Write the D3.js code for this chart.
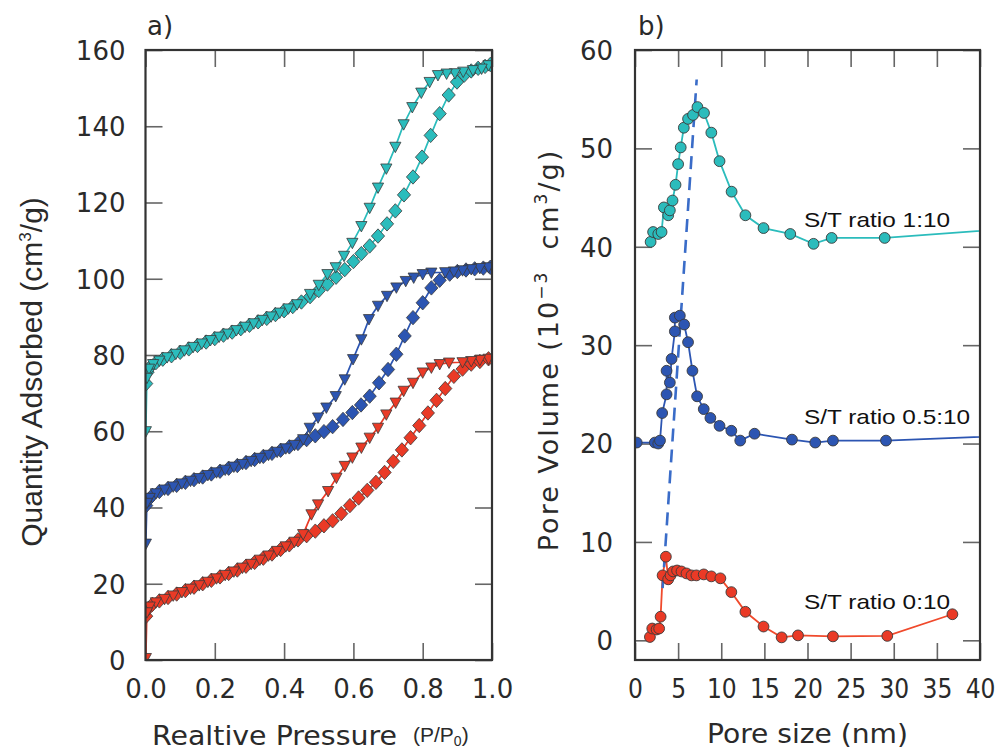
<!DOCTYPE html>
<html>
<head>
<meta charset="utf-8">
<script src="https://cdn.jsdelivr.net/npm/d3@7"></script>
<style>
  body { margin: 0; background: #fff; }
  svg { display: block; }
</style>
</head>
<body>
<svg id="chart"></svg>
<script>
// ---- panel a) N2 isotherms: [P/P0, quantity adsorbed] ----
const ads_c = [[0.002,72.5],[0.006,75.5],[0.015,77.0],[0.03,78.0],[0.05,78.9],[0.075,79.8],[0.1,80.7],[0.125,81.6],[0.15,82.5],[0.175,83.4],[0.2,84.3],[0.225,85.2],[0.25,86.0],[0.275,86.9],[0.3,87.8],[0.325,88.7],[0.35,89.6],[0.375,90.6],[0.4,91.6],[0.425,92.7],[0.45,93.9],[0.475,95.3],[0.5,96.9],[0.525,98.6],[0.55,100.4],[0.575,102.4],[0.6,104.5],[0.623,106.6],[0.647,108.6],[0.671,111.2],[0.697,114.4],[0.721,117.8],[0.746,122.0],[0.772,126.7],[0.798,131.9],[0.823,137.6],[0.849,143.3],[0.875,148.2],[0.899,151.6],[0.92,153.4],[0.94,154.5],[0.96,155.2],[0.98,155.7],[0.995,156.2]];
const des_c = [[0.99,156.0],[0.97,155.1],[0.945,154.7],[0.917,154.3],[0.893,153.9],[0.869,153.8],[0.844,153.4],[0.82,151.6],[0.796,148.8],[0.77,145.0],[0.745,140.5],[0.721,134.6],[0.695,128.9],[0.671,123.9],[0.647,118.6],[0.623,113.8],[0.597,109.4],[0.573,106.0],[0.549,103.0],[0.525,101.2],[0.5,98.4],[0.475,96.0],[0.4375,93.3],[0.4125,92.2],[0.3875,91.1],[0.3625,90.1],[0.3375,89.2],[0.3125,88.3],[0.2875,87.4],[0.2625,86.5],[0.2375,85.6],[0.2125,84.8],[0.1875,83.9],[0.1625,83.0],[0.1375,82.1],[0.1125,81.2],[0.0875,80.3],[0.0625,79.4],[0.04,78.5],[0.022,77.6],[0.01,76.4],[0.004,74.0],[0.001,60.0]];

const ads_b = [[0.002,40.5],[0.008,42.0],[0.02,43.2],[0.04,44.2],[0.065,45.0],[0.09,45.8],[0.115,46.6],[0.14,47.3],[0.165,48.0],[0.19,48.8],[0.215,49.5],[0.24,50.3],[0.265,51.0],[0.29,51.8],[0.315,52.6],[0.34,53.4],[0.365,54.2],[0.39,55.0],[0.415,55.9],[0.44,56.8],[0.465,57.8],[0.49,58.8],[0.515,59.9],[0.54,61.2],[0.57,63.1],[0.597,64.9],[0.622,66.9],[0.647,69.2],[0.674,72.7],[0.7,76.2],[0.724,80.2],[0.748,85.0],[0.772,89.8],[0.8,93.7],[0.825,97.6],[0.849,99.6],[0.878,101.2],[0.9,101.9],[0.925,102.3],[0.95,102.6],[0.975,102.8],[0.995,103.0]];
const des_b = [[0.99,103.0],[0.965,102.8],[0.94,102.5],[0.915,102.2],[0.89,101.9],[0.865,101.7],[0.825,101.6],[0.8,101.2],[0.774,100.3],[0.751,99.4],[0.724,97.7],[0.697,95.5],[0.671,92.9],[0.645,89.4],[0.623,84.1],[0.599,78.9],[0.575,73.6],[0.549,69.2],[0.522,66.2],[0.498,63.6],[0.474,60.9],[0.455,57.9],[0.43,56.4],[0.405,55.5],[0.38,54.6],[0.355,53.8],[0.33,53.0],[0.305,52.2],[0.28,51.4],[0.255,50.7],[0.23,49.9],[0.205,49.2],[0.18,48.5],[0.155,47.7],[0.13,47.0],[0.105,46.3],[0.08,45.5],[0.055,44.7],[0.03,43.7],[0.012,42.5],[0.004,41.2],[0.001,30.5]];

const ads_r = [[0.002,11.5],[0.008,13.5],[0.02,14.6],[0.04,15.5],[0.065,16.4],[0.09,17.3],[0.115,18.2],[0.14,19.1],[0.165,20.0],[0.19,20.9],[0.215,21.8],[0.24,22.7],[0.265,23.6],[0.29,24.6],[0.315,25.6],[0.34,26.7],[0.365,27.8],[0.39,29.0],[0.415,30.2],[0.44,31.5],[0.465,32.6],[0.49,33.8],[0.515,35.2],[0.54,36.5],[0.565,38.4],[0.59,40.5],[0.615,42.5],[0.64,44.5],[0.665,46.6],[0.69,49.2],[0.715,52.1],[0.74,55.1],[0.765,58.3],[0.79,61.5],[0.815,64.8],[0.84,68.1],[0.865,71.2],[0.89,74.4],[0.915,76.3],[0.94,77.6],[0.965,78.3],[0.99,79.0]];
const des_r = [[0.99,79.0],[0.965,78.7],[0.94,78.4],[0.915,78.1],[0.876,78.0],[0.849,77.6],[0.825,76.7],[0.8,75.4],[0.772,72.7],[0.745,70.6],[0.722,67.5],[0.695,64.4],[0.671,60.9],[0.647,58.3],[0.623,55.7],[0.597,53.1],[0.575,50.9],[0.551,47.8],[0.527,44.3],[0.498,40.8],[0.479,38.2],[0.455,33.0],[0.43,31.0],[0.405,29.8],[0.38,28.6],[0.355,27.4],[0.33,26.3],[0.305,25.2],[0.28,24.2],[0.255,23.2],[0.23,22.3],[0.205,21.4],[0.18,20.5],[0.155,19.6],[0.13,18.7],[0.105,17.8],[0.08,16.9],[0.055,16.0],[0.03,15.1],[0.012,14.0],[0.004,12.5],[0.001,0.5]];

// ---- panel b) pore size distributions: [pore size nm, pore volume 1e-3 cm3/g] ----
const psd_1_10 = [[1.81,40.5],[2.1,41.5],[2.7,41.3],[3.08,41.5],[3.35,44.0],[3.85,43.2],[4.04,43.7],[4.35,44.7],[4.7,46.3],[5.0,48.4],[5.3,50.1],[5.66,52.1],[6.15,53.0],[6.73,53.4],[7.24,54.2],[8.0,53.6],[8.85,51.6],[9.8,48.7],[11.2,45.6],[12.8,43.2],[14.9,41.9],[18.0,41.3],[20.7,40.3],[22.8,40.9],[28.95,40.9],[46,42.0]];
const psd_05_10 = [[0.2,20.1],[2.3,20.1],[2.7,20.0],[2.9,20.3],[3.15,23.1],[3.66,25.0],[3.66,27.4],[4.04,26.2],[4.24,28.6],[4.62,31.4],[4.62,32.8],[5.2,33.0],[5.7,32.1],[6.15,30.3],[6.66,27.4],[7.2,24.8],[7.97,23.5],[8.74,22.6],[9.8,21.8],[11.17,21.3],[12.2,20.3],[13.86,21.0],[18.2,20.4],[20.9,20.1],[22.95,20.3],[29.1,20.3],[46,20.9]];
const psd_0_10 = [[1.73,0.34],[2.0,1.2],[2.5,1.1],[2.8,1.2],[2.97,2.4],[3.2,6.6],[3.58,8.5],[3.85,6.2],[4.12,6.6],[4.42,7.0],[4.88,7.1],[5.39,7.0],[5.97,6.8],[6.55,6.6],[7.12,6.6],[7.97,6.7],[8.85,6.5],[9.9,6.3],[11.17,4.9],[12.8,2.9],[14.9,1.4],[17.0,0.3],[18.9,0.5],[22.95,0.4],[29.25,0.45],[36.8,2.65]];
const peakShift = [[3.2,5.3],[7.15,57.0]];

const psdLabels = ["S/T ratio 1:10", "S/T ratio 0.5:10", "S/T ratio 0:10"];
const psdLabelAt = [[19.6,42.0],[19.6,22.0],[19.6,3.2]];

const xTicksA = [0, 0.2, 0.4, 0.6, 0.8, 1.0];
const yTicksA = [0, 20, 40, 60, 80, 100, 120, 140, 160];
const xTicksB = [0, 5, 10, 15, 20, 25, 30, 35, 40];
const yTicksB = [0, 10, 20, 30, 40, 50, 60];

const CYAN = '#2bbcbc', BLUE = '#2c55b2', RED = '#ea3a26';

const width = 1002, height = 751;
const svg = d3.select('#chart').attr('width', width).attr('height', height);

const tickFont = 'DejaVu Sans, sans-serif';
const textCol = '#2a2a2a';
const plotTop = 50, plotBottom = 660, tickLen = 17;

// Panel geometry
const xA = d3.scaleLinear().domain([0, 1]).range([145.5, 492]);
const yA = d3.scaleLinear().domain([0, 160]).range([plotBottom, plotTop]);
const xB = d3.scaleLinear().domain([0, 40]).range([635, 980]);
const yB = d3.scaleLinear().domain([-2, 60]).range([plotBottom, plotTop]);

function frameAndAxes(x, y, xTicks, yTicks, xFmt, opts) {
  const g = svg.append('g');
  const [x0, x1] = x.range();
  const [y0, y1] = y.range();

  const bot = g.append('g').attr('transform', `translate(0,${y0})`)
    .call(d3.axisBottom(x).tickValues(xTicks).tickFormat(xFmt).tickSizeInner(-tickLen).tickSizeOuter(0));
  bot.selectAll('text').attr('y', 38).attr('dy', 0)
    .style('font-family', opts.xFont).style('font-size', '26px').attr('fill', textCol);

  const lft = g.append('g').attr('transform', `translate(${x0},0)`)
    .call(d3.axisLeft(y).tickValues(yTicks).tickSizeInner(-tickLen).tickSizeOuter(0));
  lft.selectAll('text').attr('x', -opts.yPad).attr('dy', '0.36em')
    .style('font-family', tickFont).style('font-size', '26px').attr('fill', textCol);

  // mirrored ticks on top and right, no labels
  g.append('g').attr('transform', `translate(0,${y1})`)
    .call(d3.axisTop(x).tickValues(xTicks).tickFormat('').tickSizeInner(-tickLen).tickSizeOuter(0));
  g.append('g').attr('transform', `translate(${x1},0)`)
    .call(d3.axisRight(y).tickValues(yTicks).tickFormat('').tickSizeInner(-tickLen).tickSizeOuter(0));

  g.selectAll('.domain').remove();
  g.selectAll('.tick line').attr('stroke', '#666').attr('stroke-width', 1.6);
  return g;
}

function clipFor(id, x, y) {
  svg.append('clipPath').attr('id', id).append('rect')
    .attr('x', x.range()[0]).attr('y', y.range()[1])
    .attr('width', x.range()[1] - x.range()[0])
    .attr('height', y.range()[0] - y.range()[1]);
}

function frame(x, y) {
  svg.append('rect')
    .attr('x', x.range()[0]).attr('y', y.range()[1])
    .attr('width', x.range()[1] - x.range()[0])
    .attr('height', y.range()[0] - y.range()[1])
    .attr('fill', 'none').attr('stroke', '#333').attr('stroke-width', 2.2);
}

// ---------- panel a ----------
frameAndAxes(xA, yA, xTicksA, yTicksA, d3.format('.1f'), { xFont: tickFont, yPad: 20 });
clipFor('clipA', xA, yA);

const diamond = 'M0,-7.2L6.6,0L0,7.2L-6.6,0Z';
const triDown = 'M-5.6,-4.6L5.6,-4.6L0,5.8Z';

const lineA = d3.line().x(d => xA(d[0])).y(d => yA(d[1]));
const plotA = svg.append('g').attr('clip-path', 'url(#clipA)');

const isotherms = [
  { ads: ads_r, des: des_r, color: RED },
  { ads: ads_b, des: des_b, color: BLUE },
  { ads: ads_c, des: des_c, color: CYAN }
];

isotherms.forEach(s => {
  plotA.append('path').datum(s.ads).attr('d', lineA)
    .attr('fill', 'none').attr('stroke', s.color).attr('stroke-width', 1.7);
  plotA.append('path').datum(s.des).attr('d', lineA)
    .attr('fill', 'none').attr('stroke', s.color).attr('stroke-width', 1.7);
});

isotherms.forEach(s => {
  plotA.append('g').selectAll('path').data(s.ads).join('path')
    .attr('d', diamond)
    .attr('transform', d => `translate(${xA(d[0])},${yA(d[1])})`)
    .attr('fill', s.color).attr('stroke', '#3a3a3a').attr('stroke-width', 0.8);
  plotA.append('g').selectAll('path').data(s.des).join('path')
    .attr('d', triDown)
    .attr('transform', d => `translate(${xA(d[0])},${yA(d[1])})`)
    .attr('fill', s.color).attr('stroke', '#3a3a3a').attr('stroke-width', 0.8);
});

frame(xA, yA);

// ---------- panel b ----------
frameAndAxes(xB, yB, xTicksB, yTicksB, d3.format('d'), { xFont: 'DejaVu Sans Condensed, DejaVu Sans, sans-serif', yPad: 22 });
clipFor('clipB', xB, yB);

const lineB = d3.line().x(d => xB(d[0])).y(d => yB(d[1]));
const plotB = svg.append('g').attr('clip-path', 'url(#clipB)');

const psds = [
  { data: psd_0_10, color: RED, line: '#f04a2c' },
  { data: psd_05_10, color: BLUE, line: BLUE },
  { data: psd_1_10, color: CYAN, line: CYAN }
];

psds.forEach(s => {
  plotB.append('path').datum(s.data).attr('d', lineB)
    .attr('fill', 'none').attr('stroke', s.line).attr('stroke-width', 1.8);
});

// dashed guide through the peak maxima
plotB.append('path').datum(peakShift).attr('d', lineB)
  .attr('fill', 'none').attr('stroke', '#3a6cc8').attr('stroke-width', 2.6)
  .attr('stroke-dasharray', '13 8');

psds.forEach(s => {
  plotB.append('g').selectAll('circle').data(s.data).join('circle')
    .attr('cx', d => xB(d[0])).attr('cy', d => yB(d[1]))
    .attr('r', 5.4)
    .attr('fill', s.color).attr('stroke', '#3a3a3a').attr('stroke-width', 0.9);
});

psdLabels.forEach((t, i) => {
  svg.append('text')
    .attr('x', xB(psdLabelAt[i][0])).attr('y', yB(psdLabelAt[i][1]))
    .attr('textLength', t.length > 14 ? 166 : 146).attr('lengthAdjust', 'spacingAndGlyphs')
    .style('font-family', 'Liberation Sans, Arial, sans-serif').style('font-size', '21px')
    .attr('fill', '#111').text(t);
});

frame(xB, yB);

// ---------- titles ----------
svg.append('text').attr('x', 147).attr('y', 35)
  .style('font-family', tickFont).style('font-size', '26px').attr('fill', textCol).text('a)');
svg.append('text').attr('x', 638).attr('y', 35)
  .style('font-family', tickFont).style('font-size', '26px').attr('fill', textCol).text('b)');

svg.append('text').attr('x', 152).attr('y', 745)
  .attr('textLength', 245).attr('lengthAdjust', 'spacingAndGlyphs')
  .style('font-family', tickFont).style('font-size', '27px').attr('fill', textCol)
  .text('Realtive Pressure');
const pp = svg.append('text').attr('x', 413).attr('y', 742)
  .style('font-family', 'Liberation Sans Narrow, Liberation Sans, sans-serif').style('font-size', '21px').attr('fill', textCol);
pp.append('tspan').text('(P/P');
pp.append('tspan').attr('dy', 4).style('font-size', '14px').text('0');
pp.append('tspan').attr('dy', -4).text(')');

svg.append('text').attr('x', 707).attr('y', 743)
  .attr('textLength', 201).attr('lengthAdjust', 'spacingAndGlyphs')
  .style('font-family', tickFont).style('font-size', '27px').attr('fill', textCol)
  .text('Pore size (nm)');

const qa = svg.append('text')
  .attr('transform', 'translate(42,372) rotate(-90)')
  .attr('text-anchor', 'middle')
  .style('font-family', 'Liberation Sans Narrow, Liberation Sans, sans-serif').style('font-size', '30px').attr('fill', textCol);
qa.append('tspan').text('Quantity Adsorbed (cm');
qa.append('tspan').attr('dy', -11).style('font-size', '17px').text('3');
qa.append('tspan').attr('dy', 11).text('/g)');

const pv = svg.append('text')
  .attr('transform', 'translate(558,350) rotate(-90)')
  .attr('text-anchor', 'middle')
  .style('font-family', tickFont).style('font-size', '27px').style('letter-spacing', '2px')
  .attr('fill', textCol);
pv.append('tspan').text('Pore Volume (10');
pv.append('tspan').attr('dy', -11).style('font-size', '17px').text('\u22123');
pv.append('tspan').attr('dy', 11).text('\u00a0\u00a0cm');
pv.append('tspan').attr('dy', -11).style('font-size', '17px').text('3');
pv.append('tspan').attr('dy', 11).text('/g)');
</script>
</body>
</html>
